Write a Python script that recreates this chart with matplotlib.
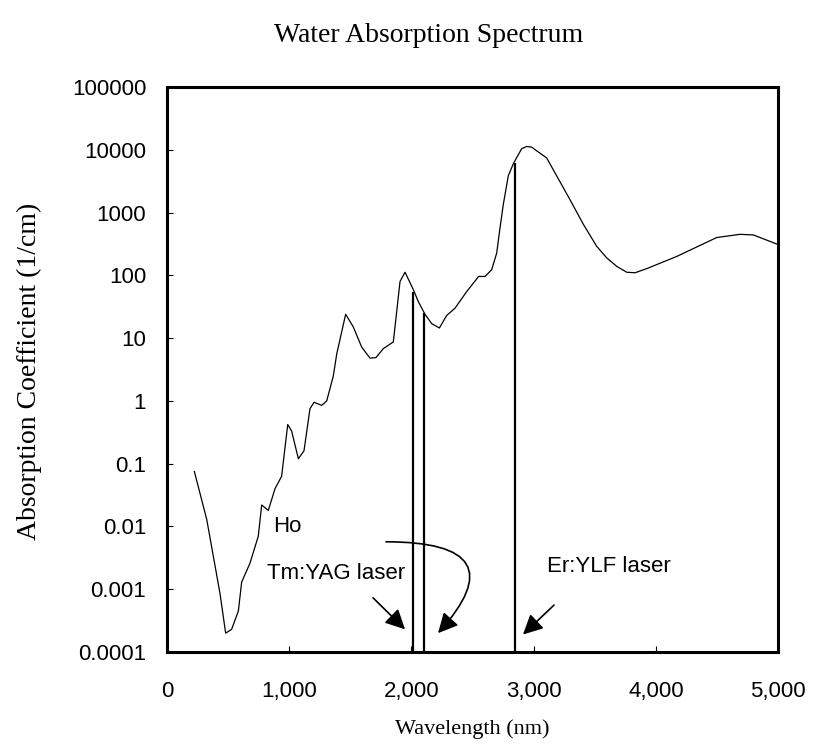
import numpy as np
import matplotlib
matplotlib.use('Agg')
from matplotlib import pyplot as plt
import matplotlib.ticker as ticker

# water absorption coefficient vs wavelength
wavelength = [224, 325, 434, 480, 529, 584, 611, 679, 747, 775, 829, 884, 938,
              988, 1020, 1075, 1121, 1170, 1203, 1266, 1307, 1361, 1389, 1462,
              1525, 1593, 1661, 1710, 1770, 1852, 1907, 1948, 2016, 2057, 2111,
              2166, 2229, 2289, 2357, 2452, 2550, 2602, 2657, 2698, 2725, 2752,
              2793, 2834, 2902, 2943, 2984, 3107, 3298, 3407, 3516, 3598, 3680,
              3762, 3830, 3926, 4171, 4498, 4689, 4798, 5000]
absorption = [0.075, 0.013, 8.5e-4, 2.0e-4, 2.3e-4, 4.5e-4, 1.3e-3, 2.6e-3,
              7e-3, 0.022, 0.018, 0.04, 0.063, 0.42, 0.33, 0.12, 0.16, 0.75,
              0.95, 0.85, 1.0, 2.5, 5.6, 24, 15, 7.2, 4.8, 4.9, 6.8, 8.7, 80,
              112, 59, 38, 24, 17, 14.5, 23, 30, 55, 96, 96, 123, 227, 570,
              1350, 3860, 6000, 10400, 11300, 11000, 7400, 1600, 650, 290, 190,
              139, 112, 110, 128, 200, 400, 450, 440, 310]

# laser lines (wavelength, height of the marker line)
laser_wl = [2010, 2100, 2850]
laser_top = [54, 25, 6100]

x_ticks = [0, 1000, 2000, 3000, 4000, 5000]
x_ticklabels = ['0', '1,000', '2,000', '3,000', '4,000', '5,000']
y_ticks = [1e-4, 1e-3, 1e-2, 1e-1, 1, 10, 100, 1000, 10000, 100000]
y_ticklabels = ['0.0001', '0.001', '0.01', '0.1', '1', '10', '100', '1000',
                '10000', '100000']

serif = 'Liberation Serif'
sans = 'Liberation Sans'

fig = plt.figure(figsize=(8.13, 7.48), dpi=100)
ax = fig.add_axes([0.2054, 0.1283, 0.7516, 0.7554])

ax.plot(wavelength, absorption, color='k', lw=0.9)
ax.vlines(laser_wl, 1e-4, laser_top, color='k', lw=1.6)

ax.set_yscale('log')
ax.set_xlim(0, 5000)
ax.set_ylim(1e-4, 1e5)

ax.xaxis.set_major_locator(ticker.FixedLocator(x_ticks))
ax.xaxis.set_major_formatter(ticker.FixedFormatter(x_ticklabels))
ax.yaxis.set_major_locator(ticker.FixedLocator(y_ticks))
ax.yaxis.set_major_formatter(ticker.FixedFormatter(y_ticklabels))
ax.yaxis.set_minor_locator(ticker.NullLocator())
ax.tick_params(direction='in', length=4, width=0.8, labelsize=16)
ax.tick_params(axis='x', pad=21)
ax.tick_params(axis='y', pad=15)
for lab in ax.get_xticklabels() + ax.get_yticklabels():
    lab.set_fontfamily(sans)

for sp in ax.spines.values():
    sp.set_linewidth(2.2)

ax.set_xlabel('Wavelength (nm)', family=serif, fontsize=16, labelpad=12)
fig.text(0.527, 0.953, 'Water Absorption Spectrum', family=serif,
         fontsize=20, ha='center', va='center')
fig.text(0.036, 0.503, 'Absorption Coefficient (1/cm)', family=serif,
         fontsize=20, ha='center', va='center', rotation=90)

# laser labels and arrows
ax.text(867, 0.0099, 'Ho', family=sans, fontsize=16, va='center')
ax.text(818, 1.8e-3, 'Tm:YAG laser', family=sans, fontsize=16, va='center')
ax.text(3110, 2.3e-3, 'Er:YLF laser', family=sans, fontsize=16, va='center')

arrow = dict(arrowstyle='-|>', color='k', lw=1.2, mutation_scale=30,
             shrinkA=0, shrinkB=0)
ax.annotate('', xy=(1948, 2.3e-4), xytext=(1686, 7.3e-4), arrowprops=arrow)
ax.annotate('', xy=(2913, 1.9e-4), xytext=(3167, 5.6e-4), arrowprops=arrow)
ax.annotate('', xy=(2218, 2.0e-4), xytext=(1792, 5.7e-3),
            arrowprops=dict(arrow, connectionstyle='angle3,angleA=0,angleB=48'))

plt.savefig('out.png', dpi=100)
